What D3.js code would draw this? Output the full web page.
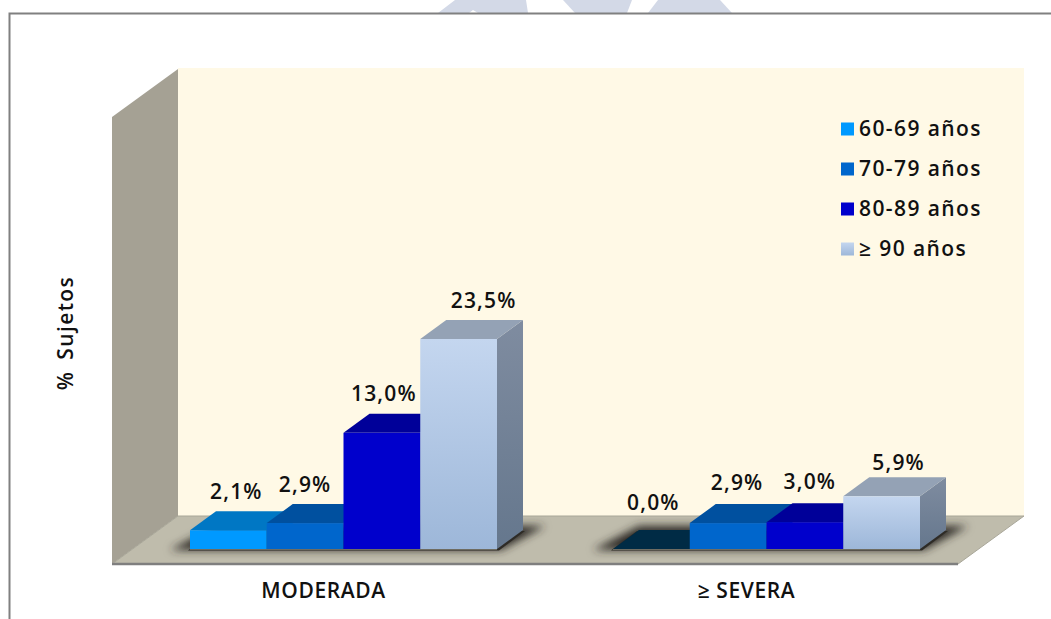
<!DOCTYPE html>
<html><head><meta charset="utf-8">
<script src="https://cdn.jsdelivr.net/npm/d3@7/dist/d3.min.js"></script>
<style>
html,body{margin:0;padding:0;background:#fff;overflow:hidden}
svg{display:block}
text{font-family:"Open Sans",sans-serif;font-weight:600;fill:#111;letter-spacing:1.2px}
</style></head><body>
<div id="c"></div>
<script>
const categories = ["MODERADA", "≥ SEVERA"];
const seriesNames = ["60-69 años", "70-79 años", "80-89 años", "≥ 90 años"];
const moderada = [2.1, 2.9, 13.0, 23.5];
const severa = [0.0, 2.9, 3.0, 5.9];
const groupValues = [moderada, severa];
const frontColors = ["#0099ff", "#0066cc", "#0000cc", "url(#lightFront)"];
const topColors = ["#0077c4", "#00509f", "#000099", "#94a2b5"];
const sideColors = ["#0077c4", "#00509f", "#000099", "url(#lightSide)"];
const labelNudgeX = [[8, 0, 2, 25], [2, 9, 5, 17]];
const labelNudgeY = [[0, 0, 0, 0], [-8, -2, -2, 5]];

const W = 1051, H = 619;
const depthX = 66, depthY = 48;
const barDX = 26, barDY = 19;
const svg = d3.select("#c").append("svg").attr("width", W).attr("height", H);
const defs = svg.append("defs");
function grad(id, a, b) {
  const g = defs.append("linearGradient").attr("id", id).attr("x1", 0).attr("y1", 0).attr("x2", 0).attr("y2", 1);
  g.append("stop").attr("offset", 0).attr("stop-color", a);
  g.append("stop").attr("offset", 1).attr("stop-color", b);
}
grad("lightFront", "#c4d6ef", "#9db7d9");
grad("lightSide", "#7f8ca0", "#65778d");
defs.append("filter").attr("id", "blur").attr("x", "-20%").attr("y", "-50%").attr("width", "140%").attr("height", "200%")
  .append("feGaussianBlur").attr("stdDeviation", 4);

const poly = pts => pts.map(p => p.join(",")).join(" ");

// watermark above the frame
const wm = [[[438,13],[455,0],[526,0],[528,13],[478,13],[473,10],[469,13]],
            [[563,0],[632,0],[627,13],[575,13]],
            [[648,13],[658,0],[720,0],[732,13]]];
svg.selectAll("polygon.wm").data(wm).join("polygon").attr("class","wm")
  .attr("points", d => poly(d)).attr("fill", "#d3d9e7");

// frame
svg.append("path").attr("d", `M9.5 ${H}V13.5H${W}`).attr("fill", "none").attr("stroke", "#808080").attr("stroke-width", 2);

const x0 = d3.scaleBand().domain(categories).range([112, 958]);
const y = d3.scaleLinear().domain([0, 50]).range([549, 102.2]);
const xBar = d3.scaleBand().domain(d3.range(4)).range([0, 307]);
const barStart = c => x0(c) + 78;

const floorY = 564, wallTop = 117;
// back wall, side wall, floor
svg.append("rect").attr("x", 112 + depthX).attr("y", wallTop - depthY - 1).attr("width", 846).attr("height", floorY - wallTop + 1)
  .attr("fill", "#fff9e6");
svg.append("polygon").attr("points", poly([[112, wallTop], [112 + depthX, wallTop - depthY], [112 + depthX, floorY - depthY], [112, floorY]]))
  .attr("fill", "#a5a194");
svg.append("polygon").attr("points", poly([[112, floorY], [112 + depthX, floorY - depthY], [958 + depthX, floorY - depthY], [958, floorY]]))
  .attr("fill", "#bfbcac").attr("stroke", "#a8a698").attr("stroke-width", 1);
svg.append("line").attr("x1", 112).attr("x2", 958).attr("y1", floorY).attr("y2", floorY).attr("stroke", "#7f7f7f").attr("stroke-width", 2.5);

// bars
categories.forEach((c, gi) => {
  const g = svg.append("g");
  const s = barStart(c), e = s + 307, b = y(0);
  g.append("polygon").attr("points", poly([[s - 20, b + 1], [e + 4, b + 1], [e + 48, b - 23], [s + 26, b - 23]]))
    .attr("fill", "#2e2b26").attr("filter", "url(#blur)");
  g.append("polygon").attr("points", poly([[s - 2, b + 1.5], [e + 2, b + 1.5], [e + 28, b - 18], [s + 24, b - 18]]))
    .attr("fill", "#2e2b26");
  groupValues[gi].forEach((v, i) => {
    const xl = s + xBar(i), xr = xl + xBar.bandwidth(), yt = y(v);
    if (v === 0) {
      g.append("polygon").attr("points", poly([[xl, b], [xr, b], [xr + barDX, b - barDY], [xl + barDX, b - barDY]])).attr("fill", "#002b45");
      return;
    }
    g.append("polygon").attr("points", poly([[xr, yt], [xr + barDX, yt - barDY], [xr + barDX, b - barDY], [xr, b]])).attr("fill", sideColors[i]);
    g.append("polygon").attr("points", poly([[xl, yt], [xr, yt], [xr + barDX, yt - barDY], [xl + barDX, yt - barDY]])).attr("fill", topColors[i]);
    g.append("rect").attr("x", xl).attr("y", yt).attr("width", xr - xl).attr("height", b - yt).attr("fill", frontColors[i]);
  });
  g.append("line").attr("x1", s).attr("x2", e).attr("y1", b + .5).attr("y2", b + .5).attr("stroke", "#6e6c62").attr("stroke-width", 1);
});

// value labels
categories.forEach((c, gi) => {
  groupValues[gi].forEach((v, i) => {
    svg.append("text").attr("x", barStart(c) + xBar(i) + xBar.bandwidth() / 2 + labelNudgeX[gi][i])
      .attr("y", y(v) - 31.5 + labelNudgeY[gi][i]).attr("text-anchor", "middle").attr("font-size", 21)
      .text(v.toFixed(1).replace(".", ",") + "%");
  });
});

// category axis
const ax = svg.append("g").attr("transform", `translate(0,${floorY})`)
  .call(d3.axisBottom(x0).tickSize(0).tickPadding(19));
ax.select(".domain").remove();
ax.selectAll("text").attr("font-size", 21).style("font-family", '"Open Sans",sans-serif').style("font-weight", 600).style("letter-spacing", "0.6px");

// y title
svg.append("text").attr("transform", "translate(73,333) rotate(-90)").attr("text-anchor", "middle").attr("font-size", 21)
  .style("letter-spacing", "1.4px").style("word-spacing", "4px").text("% Sujetos");

// legend
const legY = d3.scalePoint().domain(seriesNames).range([129, 249]);
const leg = svg.selectAll("g.leg").data(seriesNames).join("g").attr("class", "leg").attr("transform", d => `translate(841,${legY(d)})`);
leg.append("rect").attr("y", -6.5).attr("width", 13).attr("height", 13).attr("fill", (d, i) => frontColors[i]);
leg.append("text").attr("x", 18).attr("y", 7).attr("font-size", 21).style("letter-spacing", "1.4px").text(d => d);
</script>
</body></html>
